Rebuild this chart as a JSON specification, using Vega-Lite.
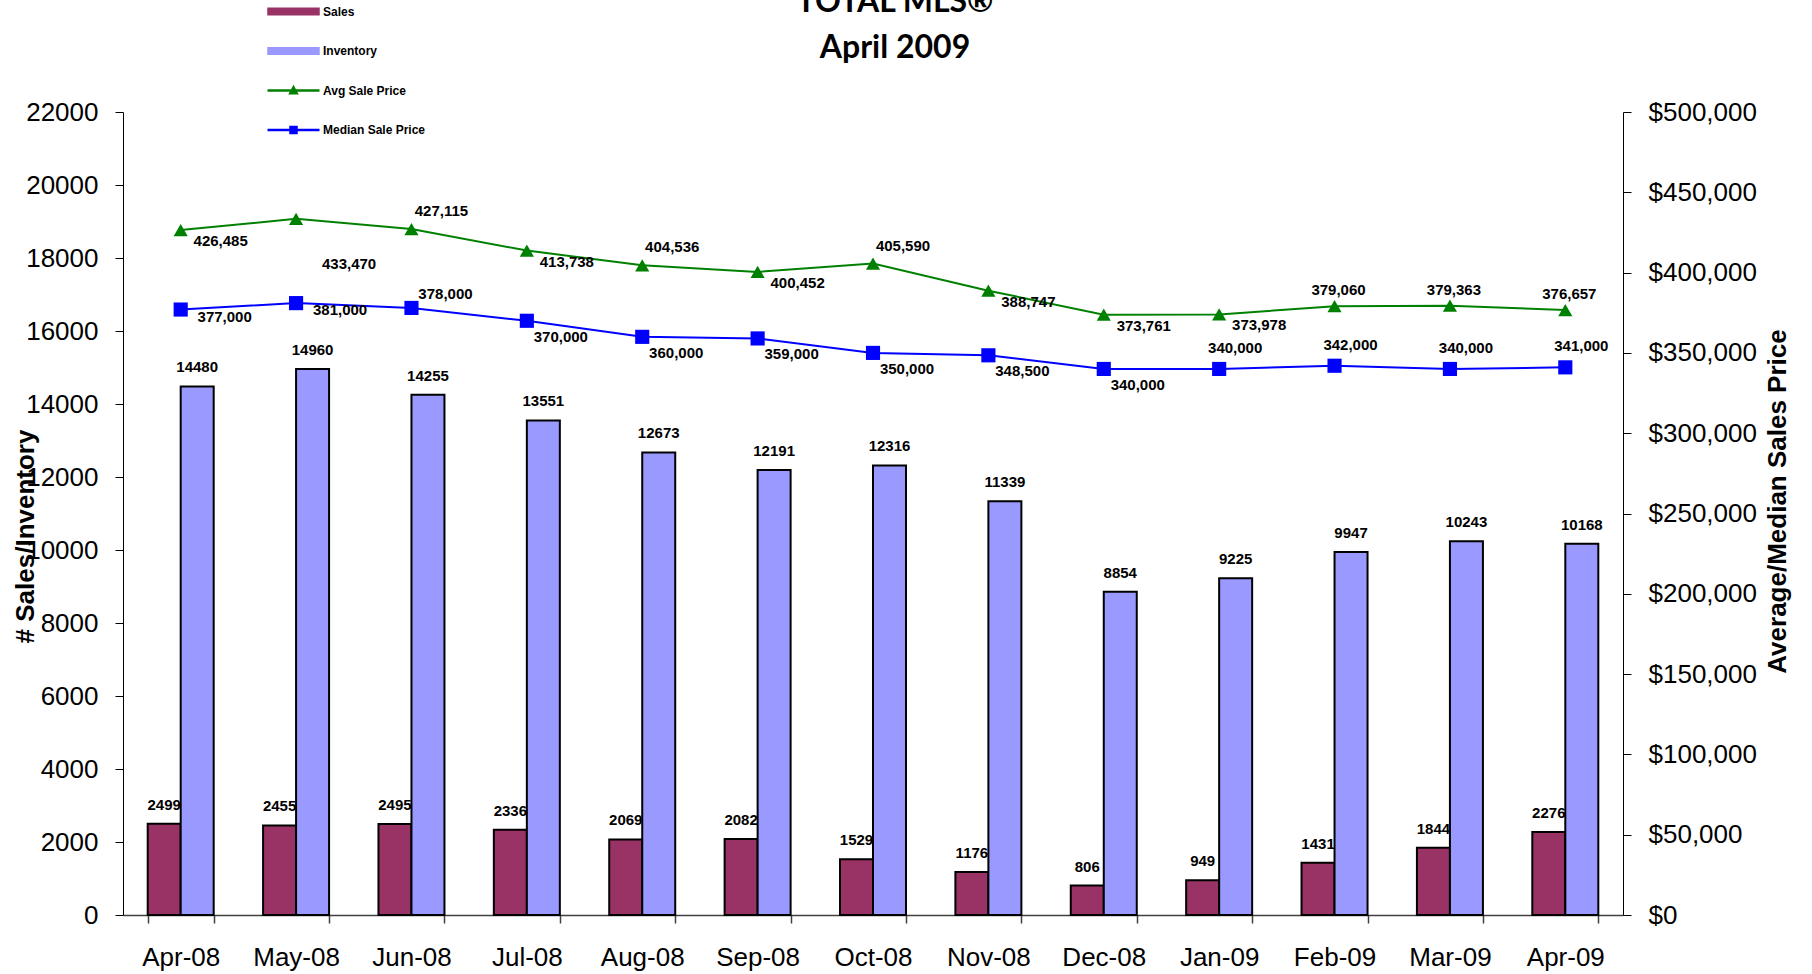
{
  "$schema": "https://vega.github.io/schema/vega-lite/v6.json",
  "width": 1500,
  "height": 803,
  "autosize": {"type": "none"},
  "padding": {"left": 123, "top": 112, "right": 189, "bottom": 59},
  "background": "white",
  "title": {"text": ["TOTAL MLS®", "April 2009"], "font": "Lato", "fontSize": 32, "fontWeight": "bold", "color": "black", "lineHeight": 46, "anchor": "middle", "dx": 22, "offset": -97, "baseline": "bottom"},
  "config": {"view": {"stroke": null}, "axis": {"grid": false}},
  "data": {"values": [
    {"month": "Apr-08", "series": "Sales", "value": 2499},
    {"month": "May-08", "series": "Sales", "value": 2455},
    {"month": "Jun-08", "series": "Sales", "value": 2495},
    {"month": "Jul-08", "series": "Sales", "value": 2336},
    {"month": "Aug-08", "series": "Sales", "value": 2069},
    {"month": "Sep-08", "series": "Sales", "value": 2082},
    {"month": "Oct-08", "series": "Sales", "value": 1529},
    {"month": "Nov-08", "series": "Sales", "value": 1176},
    {"month": "Dec-08", "series": "Sales", "value": 806},
    {"month": "Jan-09", "series": "Sales", "value": 949},
    {"month": "Feb-09", "series": "Sales", "value": 1431},
    {"month": "Mar-09", "series": "Sales", "value": 1844},
    {"month": "Apr-09", "series": "Sales", "value": 2276},
    {"month": "Apr-08", "series": "Inventory", "value": 14480},
    {"month": "May-08", "series": "Inventory", "value": 14960},
    {"month": "Jun-08", "series": "Inventory", "value": 14255},
    {"month": "Jul-08", "series": "Inventory", "value": 13551},
    {"month": "Aug-08", "series": "Inventory", "value": 12673},
    {"month": "Sep-08", "series": "Inventory", "value": 12191},
    {"month": "Oct-08", "series": "Inventory", "value": 12316},
    {"month": "Nov-08", "series": "Inventory", "value": 11339},
    {"month": "Dec-08", "series": "Inventory", "value": 8854},
    {"month": "Jan-09", "series": "Inventory", "value": 9225},
    {"month": "Feb-09", "series": "Inventory", "value": 9947},
    {"month": "Mar-09", "series": "Inventory", "value": 10243},
    {"month": "Apr-09", "series": "Inventory", "value": 10168},
    {"month": "Apr-08", "series": "Avg Sale Price", "value": 426485},
    {"month": "May-08", "series": "Avg Sale Price", "value": 433470},
    {"month": "Jun-08", "series": "Avg Sale Price", "value": 427115},
    {"month": "Jul-08", "series": "Avg Sale Price", "value": 413738},
    {"month": "Aug-08", "series": "Avg Sale Price", "value": 404536},
    {"month": "Sep-08", "series": "Avg Sale Price", "value": 400452},
    {"month": "Oct-08", "series": "Avg Sale Price", "value": 405590},
    {"month": "Nov-08", "series": "Avg Sale Price", "value": 388747},
    {"month": "Dec-08", "series": "Avg Sale Price", "value": 373761},
    {"month": "Jan-09", "series": "Avg Sale Price", "value": 373978},
    {"month": "Feb-09", "series": "Avg Sale Price", "value": 379060},
    {"month": "Mar-09", "series": "Avg Sale Price", "value": 379363},
    {"month": "Apr-09", "series": "Avg Sale Price", "value": 376657},
    {"month": "Apr-08", "series": "Median Sale Price", "value": 377000},
    {"month": "May-08", "series": "Median Sale Price", "value": 381000},
    {"month": "Jun-08", "series": "Median Sale Price", "value": 378000},
    {"month": "Jul-08", "series": "Median Sale Price", "value": 370000},
    {"month": "Aug-08", "series": "Median Sale Price", "value": 360000},
    {"month": "Sep-08", "series": "Median Sale Price", "value": 359000},
    {"month": "Oct-08", "series": "Median Sale Price", "value": 350000},
    {"month": "Nov-08", "series": "Median Sale Price", "value": 348500},
    {"month": "Dec-08", "series": "Median Sale Price", "value": 340000},
    {"month": "Jan-09", "series": "Median Sale Price", "value": 340000},
    {"month": "Feb-09", "series": "Median Sale Price", "value": 342000},
    {"month": "Mar-09", "series": "Median Sale Price", "value": 340000},
    {"month": "Apr-09", "series": "Median Sale Price", "value": 341000}
  ]},
  "layer": [
    {
      "transform": [{"filter": {"field": "series", "oneOf": ["Sales", "Inventory"]}}],
      "encoding": {
        "x": {"field": "month", "type": "nominal", "sort": null, "title": null,
              "scale": {"paddingInner": 0.428, "paddingOuter": 0.214},
              "axis": {"labelFont": "Liberation Sans", "labelFontSize": 26, "labelColor": "black", "labelAngle": 0, "labelPadding": 21, "labelBaseline": "top", "tickBand": "extent", "tickSize": 8, "tickColor": "#404040", "domainColor": "#404040", "domainWidth": 1.5, "tickWidth": 1.5}},
        "xOffset": {"field": "series", "type": "nominal", "sort": ["Sales", "Inventory"], "scale": {"paddingInner": 0, "paddingOuter": 0}},
        "y": {"field": "value", "type": "quantitative", "scale": {"domain": [0, 22000], "nice": false},
              "axis": {"orient": "left", "values": [0, 2000, 4000, 6000, 8000, 10000, 12000, 14000, 16000, 18000, 20000, 22000], "format": "d", "labelFont": "Liberation Sans", "labelFontSize": 26, "labelColor": "black", "labelPadding": 17, "tickSize": 8, "tickColor": "black", "domainColor": "black", "labelOverlap": false, "title": "# Sales/Inventory", "titleFont": "Liberation Sans", "titleFontSize": 26, "titleFontWeight": "bold", "titleColor": "black", "titleAngle": -90, "titleX": -98, "titleY": 424, "titleAlign": "center", "titleBaseline": "middle"}}
      },
      "layer": [
        {"mark": {"type": "bar", "stroke": "black", "strokeWidth": 2},
         "encoding": {"color": {"field": "series", "type": "nominal",
            "scale": {"domain": ["Sales", "Inventory", "Avg Sale Price", "Median Sale Price"], "range": ["#993366", "#9999FF", "#008000", "#0000FF"]},
            "legend": {"orient": "none", "legendX": 159, "legendY": -112, "direction": "vertical", "title": null, "padding": 0, "symbolSize": 400, "rowPadding": 19.5, "labelOffset": 18, "labelFont": "Liberation Sans", "labelFontSize": 12, "labelFontWeight": "bold", "labelColor": "black", "symbolOpacity": 1, "symbolStrokeColor": "black", "symbolStrokeWidth": 2.5,
              "encoding": {"symbols": {
                "shape": {"value": {"expr": "datum.value === 'Sales' || datum.value === 'Inventory' ? 'M-2.5,-0.27H2.5V0.27H-2.5Z' : datum.value === 'Avg Sale Price' ? 'M-2.6,0H2.6M-0.32,0.28L0,-0.32L0.32,0.28Z' : 'M-2.6,0H2.6M-0.3,-0.3H0.3V0.3H-0.3Z'"}},
                "fill": {"value": {"expr": "datum.value === 'Sales' ? '#993366' : datum.value === 'Inventory' ? '#9999FF' : datum.value === 'Avg Sale Price' ? '#008000' : '#0000FF'"}},
                "stroke": {"value": {"expr": "datum.value === 'Sales' || datum.value === 'Inventory' ? '#000000' : datum.value === 'Avg Sale Price' ? '#008000' : '#0000FF'"}},
                "strokeWidth": {"value": 2.5},
                "strokeOpacity": {"value": 1},
                "opacity": {"value": 1}
              }}}}}},
        {"mark": {"type": "text", "dy": -19, "fontSize": 15, "fontWeight": "bold", "font": "Liberation Sans", "color": "black", "baseline": "middle", "align": "center"},
         "encoding": {"text": {"field": "value", "type": "quantitative", "format": "d"}}}
      ]
    },
    {
      "transform": [{"filter": {"field": "series", "oneOf": ["Avg Sale Price", "Median Sale Price"]}}],
      "encoding": {
        "x": {"field": "month", "type": "nominal", "sort": null, "title": null,
              "scale": {"paddingInner": 0.428, "paddingOuter": 0.214},
              "axis": {"labelFont": "Liberation Sans", "labelFontSize": 26, "labelColor": "black", "labelAngle": 0, "labelPadding": 21, "labelBaseline": "top", "tickBand": "extent", "tickSize": 8, "tickColor": "#404040", "domainColor": "#404040", "domainWidth": 1.5, "tickWidth": 1.5}},
        "y": {"field": "value", "type": "quantitative", "scale": {"domain": [0, 500000], "nice": false},
              "axis": {"orient": "right", "values": [0, 50000, 100000, 150000, 200000, 250000, 300000, 350000, 400000, 450000, 500000], "format": "$,.0f", "labelFont": "Liberation Sans", "labelFontSize": 26, "labelColor": "black", "labelPadding": 17, "tickSize": 8, "tickColor": "black", "domainColor": "black", "labelOverlap": false, "title": "Average/Median Sales Price", "titleFont": "Liberation Sans", "titleFontSize": 26, "titleFontWeight": "bold", "titleColor": "black", "titleAngle": -90, "titleX": 154, "titleY": 389, "titleAlign": "center", "titleBaseline": "middle"}}
      },
      "layer": [
        {"mark": {"type": "line", "strokeWidth": 2},
         "encoding": {"color": {"field": "series", "type": "nominal",
            "scale": {"domain": ["Sales", "Inventory", "Avg Sale Price", "Median Sale Price"], "range": ["#993366", "#9999FF", "#008000", "#0000FF"]}}}},
        {"mark": {"type": "point", "filled": true, "opacity": 1, "size": 200},
         "encoding": {"color": {"field": "series", "type": "nominal",
            "scale": {"domain": ["Sales", "Inventory", "Avg Sale Price", "Median Sale Price"], "range": ["#993366", "#9999FF", "#008000", "#0000FF"]}},
            "shape": {"field": "series", "type": "nominal", "scale": {"domain": ["Avg Sale Price", "Median Sale Price"], "range": ["triangle-up", "square"]}, "legend": null}}},
        {"transform": [{"filter": {"and": [{"field": "series", "equal": "Avg Sale Price"}, {"field": "month", "oneOf": ["Apr-08", "Jul-08", "Sep-08", "Nov-08", "Dec-08", "Jan-09"]}]}}],
         "mark": {"type": "text", "dx": 40, "dy": 11, "fontSize": 15, "fontWeight": "bold", "font": "Liberation Sans", "color": "black", "baseline": "middle", "align": "center"},
         "encoding": {"text": {"field": "value", "type": "quantitative", "format": ",.0f"}}},
        {"transform": [{"filter": {"and": [{"field": "series", "equal": "Avg Sale Price"}, {"field": "month", "oneOf": ["May-08"]}]}}],
         "mark": {"type": "text", "dx": 53, "dy": 45, "fontSize": 15, "fontWeight": "bold", "font": "Liberation Sans", "color": "black", "baseline": "middle", "align": "center"},
         "encoding": {"text": {"field": "value", "type": "quantitative", "format": ",.0f"}}},
        {"transform": [{"filter": {"and": [{"field": "series", "equal": "Avg Sale Price"}, {"field": "month", "oneOf": ["Jun-08", "Aug-08", "Oct-08"]}]}}],
         "mark": {"type": "text", "dx": 30, "dy": -18, "fontSize": 15, "fontWeight": "bold", "font": "Liberation Sans", "color": "black", "baseline": "middle", "align": "center"},
         "encoding": {"text": {"field": "value", "type": "quantitative", "format": ",.0f"}}},
        {"transform": [{"filter": {"and": [{"field": "series", "equal": "Avg Sale Price"}, {"field": "month", "oneOf": ["Feb-09", "Mar-09", "Apr-09"]}]}}],
         "mark": {"type": "text", "dx": 4, "dy": -16, "fontSize": 15, "fontWeight": "bold", "font": "Liberation Sans", "color": "black", "baseline": "middle", "align": "center"},
         "encoding": {"text": {"field": "value", "type": "quantitative", "format": ",.0f"}}},
        {"transform": [{"filter": {"and": [{"field": "series", "equal": "Median Sale Price"}, {"field": "month", "oneOf": ["Jul-08", "Aug-08", "Sep-08", "Oct-08", "Nov-08", "Dec-08"]}]}}],
         "mark": {"type": "text", "dx": 34, "dy": 16, "fontSize": 15, "fontWeight": "bold", "font": "Liberation Sans", "color": "black", "baseline": "middle", "align": "center"},
         "encoding": {"text": {"field": "value", "type": "quantitative", "format": ",.0f"}}},
        {"transform": [{"filter": {"and": [{"field": "series", "equal": "Median Sale Price"}, {"field": "month", "oneOf": ["Apr-08", "May-08"]}]}}],
         "mark": {"type": "text", "dx": 44, "dy": 7, "fontSize": 15, "fontWeight": "bold", "font": "Liberation Sans", "color": "black", "baseline": "middle", "align": "center"},
         "encoding": {"text": {"field": "value", "type": "quantitative", "format": ",.0f"}}},
        {"transform": [{"filter": {"and": [{"field": "series", "equal": "Median Sale Price"}, {"field": "month", "oneOf": ["Jun-08"]}]}}],
         "mark": {"type": "text", "dx": 34, "dy": -14, "fontSize": 15, "fontWeight": "bold", "font": "Liberation Sans", "color": "black", "baseline": "middle", "align": "center"},
         "encoding": {"text": {"field": "value", "type": "quantitative", "format": ",.0f"}}},
        {"transform": [{"filter": {"and": [{"field": "series", "equal": "Median Sale Price"}, {"field": "month", "oneOf": ["Jan-09", "Feb-09", "Mar-09", "Apr-09"]}]}}],
         "mark": {"type": "text", "dx": 16, "dy": -21, "fontSize": 15, "fontWeight": "bold", "font": "Liberation Sans", "color": "black", "baseline": "middle", "align": "center"},
         "encoding": {"text": {"field": "value", "type": "quantitative", "format": ",.0f"}}}
      ]
    }
  ],
  "resolve": {"scale": {"y": "independent"}}
}
